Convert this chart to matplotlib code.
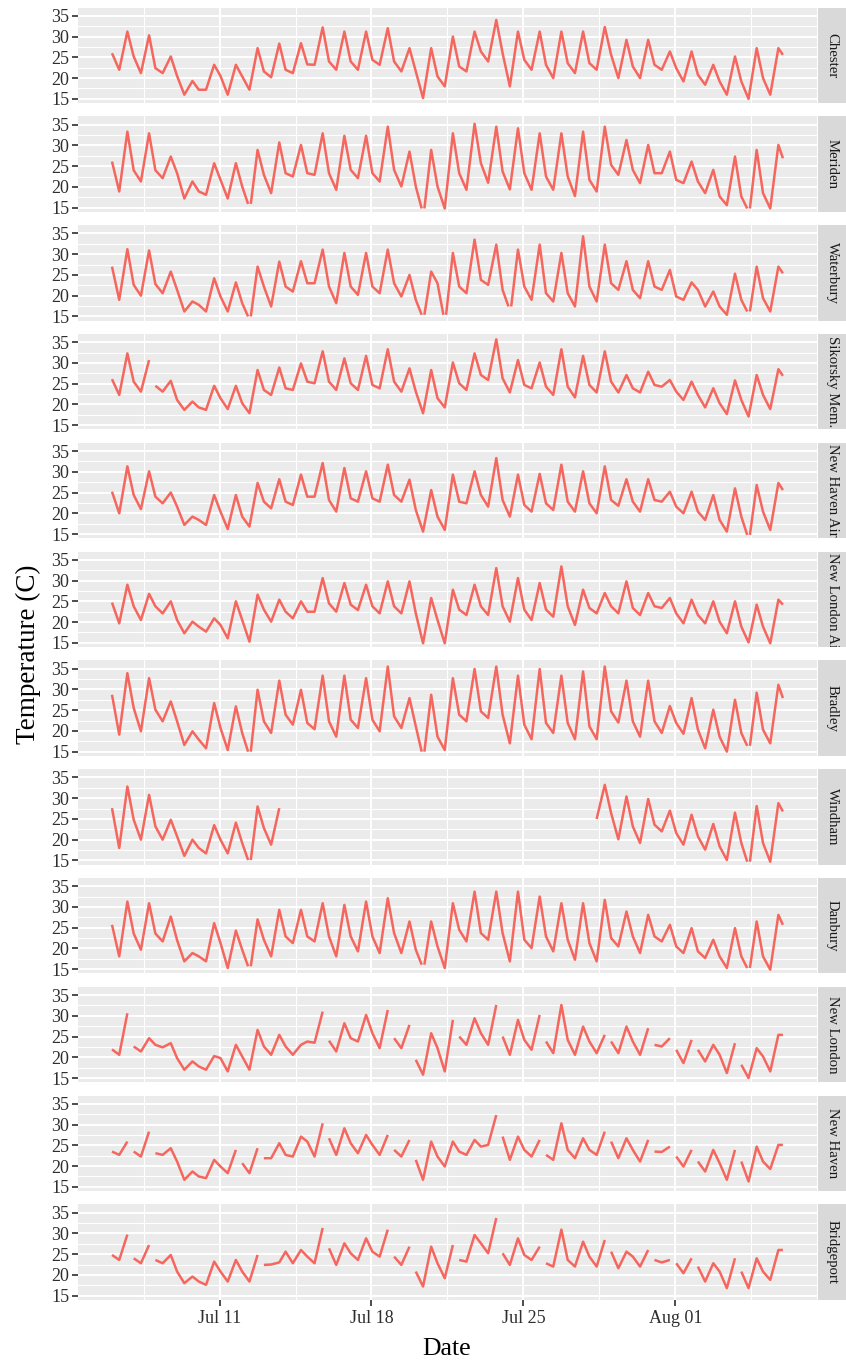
import numpy as np
import pandas as pd
import matplotlib
matplotlib.use("Agg")
import matplotlib.pyplot as plt
import matplotlib.dates as mdates
from matplotlib.ticker import MultipleLocator, FixedLocator, NullFormatter

plt.rcParams['font.family'] = ['Liberation Serif', 'DejaVu Serif']

nan = float('nan')

# hourly readings summarised per day: night (~01h), morning low (~09h), afternoon high (~18h)
start = pd.Timestamp('2016-07-06')
n_days = 31
night_hour, low_hour, high_hour, last_hour = 1, 9, 18, 743

chester_night = [26.0, 25.2, 22.4, 20.5, 17.2, 20.5, 20.4, 21.6, 22.0, 23.3, 24.0, 24.0, 24.4, 24.0, 21.6, 20.4,
                 22.8, 26.4, 26.0, 24.4, 23.2, 23.6, 23.6, 25.6, 22.8, 23.2, 22.4, 20.8, 19.2, 19.2, 20.0]
chester_lo = [22.0, 21.2, 21.2, 16.0, 17.2, 16.0, 17.2, 20.2, 21.2, 23.2, 22.0, 22.0, 23.2, 21.6, 15.2, 18.0,
              21.6, 24.0, 18.0, 22.0, 20.0, 21.2, 22.0, 20.0, 20.0, 22.0, 19.2, 18.4, 16.0, 15.0, 16.0]
chester_hi = [31.2, 30.3, 25.2, 19.3, 23.2, 23.2, 27.2, 28.3, 28.4, 32.2, 31.2, 31.2, 32.0, 27.2, 27.2, 30.0,
              31.2, 34.0, 31.2, 31.2, 31.2, 31.2, 32.3, 29.2, 29.2, 26.4, 26.4, 23.2, 25.2, 27.2, 27.2]
chester_last = 25.6

meriden_night = [26.1, 24.0, 24.0, 23.3, 18.9, 21.7, 20.1, 22.9, 23.3, 23.3, 23.3, 24.1, 23.3, 24.1, 20.1, 20.1,
                 23.3, 25.7, 23.7, 23.3, 22.5, 22.5, 21.7, 25.3, 24.1, 23.3, 21.7, 21.3, 17.7, 17.7, 18.5]
meriden_lo = [18.9, 21.3, 22.1, 17.2, 18.1, 17.2, 15.9, 18.5, 22.5, 22.9, 19.3, 22.1, 21.3, 20.1, 14.8, 14.8,
              19.3, 21.0, 19.4, 19.3, 19.3, 17.8, 18.9, 22.9, 20.9, 23.3, 20.9, 18.5, 15.6, 14.8, 14.8]
meriden_hi = [33.3, 32.9, 27.3, 21.3, 25.7, 25.7, 28.9, 30.7, 30.1, 32.9, 32.3, 32.3, 34.5, 28.5, 28.9, 32.9,
              35.2, 34.5, 34.1, 32.9, 32.9, 33.3, 34.5, 31.3, 30.1, 28.5, 26.1, 24.1, 27.3, 28.9, 30.1]
meriden_last = 26.9

waterbury_night = [27.0, 22.6, 22.8, 21.4, 17.8, 19.8, 18.2, 22.2, 22.2, 23.0, 22.2, 22.2, 22.2, 23.0, 19.0, 23.0,
                   22.2, 23.8, 21.4, 22.2, 20.6, 20.6, 22.2, 23.0, 21.4, 22.2, 19.8, 21.4, 17.4, 19.0, 19.4]
waterbury_lo = [19.0, 20.0, 20.6, 16.2, 16.2, 16.2, 15.0, 17.4, 21.0, 23.0, 18.2, 20.2, 20.6, 19.8, 15.4, 15.4,
                20.6, 22.6, 17.4, 19.0, 18.6, 17.4, 18.6, 21.4, 19.4, 21.4, 19.0, 17.4, 15.4, 16.2, 16.2]
waterbury_hi = [31.2, 30.9, 25.8, 18.6, 24.2, 23.2, 27.0, 28.2, 28.3, 31.1, 30.3, 30.3, 31.1, 25.0, 25.8, 30.3,
                33.5, 32.3, 31.1, 32.3, 30.3, 34.3, 32.3, 28.3, 28.3, 26.2, 23.2, 21.0, 25.3, 27.0, 27.0]
waterbury_last = 25.4

sikorsky_night = [26.1, 25.5, 24.5, 21.1, 19.3, 21.5, 20.3, 23.5, 23.9, 25.5, 25.5, 25.1, 24.7, 25.5, 23.1, 21.5,
                  25.1, 27.1, 26.3, 24.7, 24.3, 24.3, 24.7, 25.5, 23.9, 24.7, 23.1, 22.3, 20.3, 21.1, 22.3]
sikorsky_lo = [22.3, 23.1, 23.1, 18.7, 18.7, 18.9, 17.9, 22.3, 23.5, 25.1, 23.5, 23.5, 23.9, 23.1, 17.9, 19.3,
               23.5, 25.9, 22.9, 23.9, 22.3, 21.7, 22.9, 22.9, 22.9, 24.3, 21.1, 19.3, 17.7, 17.1, 18.9]
sikorsky_hi = [32.3, 30.7, 25.7, 20.7, 24.5, 24.5, 28.3, 28.9, 29.9, 32.8, 31.1, 31.7, 33.3, 28.7, 28.3, 30.1,
               32.3, 35.7, 30.7, 30.1, 33.3, 31.7, 32.8, 27.1, 27.9, 25.9, 25.5, 23.9, 25.8, 27.1, 28.5]
sikorsky_last = 26.9

nhair_night = [25.2, 24.4, 24.0, 21.6, 18.4, 20.4, 19.2, 22.8, 22.8, 24.0, 23.2, 23.6, 23.6, 24.4, 20.8, 19.2,
               22.8, 24.4, 23.2, 22.0, 22.4, 22.8, 22.4, 23.2, 22.8, 23.2, 21.6, 20.4, 18.4, 19.2, 20.4]
nhair_lo = [20.0, 21.0, 22.4, 17.2, 17.2, 16.2, 16.8, 21.2, 22.0, 24.0, 20.4, 22.8, 22.8, 22.8, 15.6, 16.0,
            22.4, 21.6, 19.2, 20.4, 20.8, 20.4, 20.0, 21.8, 20.4, 22.8, 20.0, 18.4, 15.6, 14.8, 16.0]
nhair_hi = [31.3, 30.1, 25.0, 19.2, 24.4, 24.4, 27.3, 28.2, 29.3, 32.1, 30.9, 30.1, 31.7, 28.1, 25.6, 29.3,
            30.1, 33.3, 29.3, 29.5, 31.7, 30.1, 31.3, 28.2, 28.2, 25.2, 25.2, 24.4, 26.0, 26.8, 27.3]
nhair_last = 25.6

nlair_night = [24.7, 23.8, 23.8, 20.5, 18.9, 19.3, 20.5, 23.0, 22.5, 22.5, 24.5, 24.2, 23.8, 23.8, 22.1, 20.5,
               23.0, 23.8, 23.8, 23.0, 23.0, 23.8, 23.4, 23.8, 23.4, 23.8, 22.1, 21.7, 20.1, 18.9, 18.9]
nlair_lo = [19.7, 20.5, 22.1, 17.3, 17.7, 16.1, 15.3, 20.1, 20.9, 22.5, 22.5, 22.9, 22.1, 22.1, 14.9, 14.9,
            21.7, 21.7, 20.1, 20.5, 21.3, 19.3, 22.1, 22.1, 21.7, 23.4, 19.7, 19.7, 17.3, 15.1, 14.9]
nlair_hi = [29.0, 26.8, 25.0, 20.1, 20.9, 25.0, 26.6, 25.4, 25.0, 30.6, 29.4, 29.0, 29.8, 29.8, 25.8, 27.8,
            29.0, 33.0, 30.6, 29.4, 33.4, 27.8, 27.0, 29.8, 27.0, 25.8, 25.4, 25.0, 25.0, 24.2, 25.4]
nlair_last = 24.2

bradley_night = [28.7, 25.5, 25.1, 22.3, 17.9, 20.7, 19.5, 22.3, 23.9, 21.9, 22.3, 22.7, 22.7, 23.5, 21.1, 18.6,
                 23.9, 24.7, 23.9, 21.5, 21.9, 21.9, 21.1, 24.7, 22.3, 22.3, 21.9, 20.3, 18.6, 19.5, 20.3]
bradley_lo = [19.1, 19.9, 22.3, 16.6, 15.8, 15.4, 15.0, 19.5, 21.5, 20.4, 18.6, 20.7, 19.9, 20.7, 15.0, 15.4,
              22.3, 23.1, 17.0, 18.0, 19.5, 18.0, 18.0, 22.0, 18.6, 19.5, 19.3, 15.8, 15.0, 16.4, 17.0]
bradley_hi = [33.9, 32.7, 27.1, 19.9, 26.7, 25.9, 29.9, 32.1, 29.9, 33.3, 33.3, 32.7, 35.5, 27.9, 28.7, 32.7,
              34.9, 35.5, 33.3, 34.9, 33.3, 34.3, 35.5, 32.1, 32.1, 26.0, 27.9, 25.1, 27.5, 29.2, 31.1]
bradley_last = 27.9

windham_night = [27.6, 24.8, 23.2, 20.8, 18.0, 20.0, 19.2, 22.8] + [nan] * 15 + \
                [26.4, 23.2, 23.6, 21.6, 20.8, 18.4, 19.2, 19.2]
windham_lo = [18.0, 20.0, 20.0, 16.1, 16.7, 16.7, 15.1, 18.8] + [nan] * 14 + \
             [25.0, 20.1, 19.2, 22.0, 18.8, 17.6, 15.1, 14.7, 14.7]
windham_hi = [32.8, 30.8, 24.8, 20.0, 23.5, 24.1, 28.0, 27.6] + [nan] * 14 + \
             [33.2, 30.4, 29.8, 27.0, 26.0, 23.8, 26.5, 28.1, 28.8]
windham_last = 26.8

danbury_night = [25.7, 23.6, 23.6, 22.0, 18.1, 21.3, 19.7, 22.1, 22.9, 22.9, 22.9, 22.9, 22.9, 23.7, 19.7, 20.5,
                 24.5, 23.7, 23.7, 22.1, 22.9, 22.1, 21.3, 22.5, 22.9, 22.9, 20.5, 19.3, 18.1, 18.1, 18.1]
danbury_lo = [18.1, 19.7, 21.7, 16.9, 16.9, 15.3, 15.7, 18.1, 21.3, 21.7, 18.1, 19.3, 18.9, 18.9, 16.1, 15.3,
              21.7, 22.1, 16.9, 20.1, 19.3, 17.3, 16.9, 20.5, 18.9, 21.7, 18.9, 17.7, 15.3, 15.3, 14.9]
danbury_hi = [31.3, 30.9, 27.7, 18.9, 26.1, 24.3, 27.0, 29.3, 29.3, 30.9, 30.5, 31.3, 32.1, 26.5, 26.5, 30.9,
              33.7, 33.7, 33.7, 32.5, 30.9, 30.9, 31.7, 28.9, 28.1, 25.7, 24.9, 22.1, 24.9, 26.5, 28.1]
danbury_last = 25.7

newlondon_night = [21.9, 22.6, 23.0, 19.8, 17.8, 19.8, 20.2, 22.6, 22.6, 23.8, 24.0, 24.6, 25.8, 24.6, 19.4, 22.2,
                   25.0, 25.8, 25.0, 24.2, 23.8, 24.2, 23.8, 23.8, 23.8, 23.0, 21.8, 21.8, 20.6, 18.2, 20.2]
newlondon_lo = [20.6, 21.4, 22.4, 17.0, 17.0, 16.6, 17.0, 20.6, 20.6, 23.5, 21.4, 23.8, 22.2, 22.2, 15.8, 16.6,
                23.0, 23.0, 20.6, 21.8, 21.0, 20.6, 21.0, 21.0, 20.6, 22.6, 18.6, 19.0, 16.2, 15.0, 16.6]
newlondon_hi = [30.6, 24.6, 23.4, 19.0, 20.3, 23.0, 26.6, 25.4, 23.0, 31.0, 28.2, 30.2, 31.4, 27.8, 25.8, 29.0,
                29.4, 32.6, 29.0, 30.2, 32.6, 27.4, 25.4, 27.4, 27.0, 24.6, 24.2, 23.0, 23.4, 22.2, 25.4]
newlondon_last = 25.4

newhaven_night = [23.5, 23.5, 23.1, 21.1, 17.5, 19.9, 20.7, 21.9, 22.7, 25.9, 26.7, 25.5, 25.1, 23.9, 21.5, 22.3,
                  23.5, 24.7, 27.1, 23.9, 22.7, 23.9, 23.9, 25.9, 23.9, 23.5, 22.3, 21.1, 20.7, 21.1, 21.1]
newhaven_lo = [22.7, 22.3, 22.7, 16.7, 17.1, 18.3, 18.3, 21.9, 22.3, 22.3, 22.7, 23.1, 22.7, 22.3, 16.7, 19.9,
               22.7, 25.1, 21.5, 22.3, 21.5, 21.9, 22.7, 21.9, 21.1, 23.4, 19.9, 18.7, 16.7, 16.3, 19.3]
newhaven_hi = [25.9, 28.3, 24.3, 18.7, 21.5, 23.9, 24.3, 25.5, 27.1, 30.3, 29.1, 27.5, 27.5, 26.3, 25.9, 25.9,
               26.3, 32.3, 27.1, 26.3, 30.3, 26.7, 28.3, 26.7, 26.3, 24.7, 23.9, 23.9, 23.9, 24.7, 25.1]
newhaven_last = 25.1

bridgeport_night = [24.8, 24.0, 23.6, 20.8, 18.4, 20.8, 20.8, 22.4, 25.6, 24.4, 26.4, 25.2, 25.6, 24.4, 20.8, 22.8,
                    23.6, 27.6, 25.2, 24.8, 22.8, 23.6, 24.4, 25.6, 24.4, 23.6, 22.8, 22.0, 20.8, 20.8, 20.8]
bridgeport_lo = [23.6, 22.8, 22.8, 18.0, 17.6, 18.4, 18.4, 22.5, 22.8, 22.8, 22.4, 23.6, 24.4, 22.4, 17.2, 19.2,
                 23.2, 25.2, 22.4, 23.6, 22.0, 22.0, 22.0, 21.6, 22.0, 23.0, 20.4, 18.4, 16.8, 16.8, 18.8]
bridgeport_hi = [29.7, 27.2, 24.8, 19.6, 23.2, 23.6, 24.8, 23.0, 26.0, 31.3, 27.6, 28.8, 30.9, 26.8, 26.8, 27.2,
                 29.6, 33.7, 28.8, 26.8, 30.9, 28.0, 28.4, 25.6, 26.0, 23.6, 24.0, 22.8, 24.0, 24.0, 26.0]
bridgeport_last = 26.0

# missing readings: a short hole around the morning low, or a hole after the afternoon high
gap_at_low = {"Meriden": [6, 14, 29], "Waterbury": [6, 14, 15, 18, 29], "Bradley": [6, 14, 29],
              "Windham": [6, 29], "Danbury": [6, 14, 29], "New Haven Airport": [29]}
gap_after_high = {"Sikorsky Mem.": [1],
                  "New London": [0, 9, 12, 13, 15, 17, 19, 22, 24, 25, 26, 28],
                  "New Haven": [0, 1, 5, 6, 9, 12, 13, 17, 19, 22, 24, 25, 26, 28],
                  "Bridgeport": [0, 1, 6, 9, 12, 13, 15, 17, 19, 22, 24, 25, 26, 28]}

stations = [
    ("Chester", chester_night, chester_lo, chester_hi, chester_last),
    ("Meriden", meriden_night, meriden_lo, meriden_hi, meriden_last),
    ("Waterbury", waterbury_night, waterbury_lo, waterbury_hi, waterbury_last),
    ("Sikorsky Mem.", sikorsky_night, sikorsky_lo, sikorsky_hi, sikorsky_last),
    ("New Haven Airport", nhair_night, nhair_lo, nhair_hi, nhair_last),
    ("New London Airport", nlair_night, nlair_lo, nlair_hi, nlair_last),
    ("Bradley", bradley_night, bradley_lo, bradley_hi, bradley_last),
    ("Windham", windham_night, windham_lo, windham_hi, windham_last),
    ("Danbury", danbury_night, danbury_lo, danbury_hi, danbury_last),
    ("New London", newlondon_night, newlondon_lo, newlondon_hi, newlondon_last),
    ("New Haven", newhaven_night, newhaven_lo, newhaven_hi, newhaven_last),
    ("Bridgeport", bridgeport_night, bridgeport_lo, bridgeport_hi, bridgeport_last),
]


def build_series(name, night, lo, hi, last):
    hrs, vals = [], []
    for d in range(n_days):
        hrs.append(d * 24 + night_hour)
        vals.append(night[d])
        t_lo = d * 24 + low_hour
        if d in gap_at_low.get(name, []):
            hrs += [t_lo - 1.5, t_lo, t_lo + 1.5]
            vals += [lo[d], nan, lo[d]]
        else:
            hrs.append(t_lo)
            vals.append(lo[d])
        hrs.append(d * 24 + high_hour)
        vals.append(hi[d])
        if d in gap_after_high.get(name, []):
            hrs.append(d * 24 + high_hour + 1)
            vals.append(nan)
    hrs.append(last_hour)
    vals.append(last)
    times = start + pd.to_timedelta(hrs, unit='h')
    return times.to_numpy(), np.array(vals)


W, H = 846, 1365
fig = plt.figure(figsize=(W / 100, H / 100), dpi=100)

left, right = 77.5, 816.5
top0, ph, pitch = 7.5, 95.5, 108.8

t_first = start
t_last = start + pd.Timedelta(hours=last_hour)
pad = (t_last - t_first) * 0.05
xlo, xhi = mdates.date2num(t_first - pad), mdates.date2num(t_last + pad)

major_days = pd.date_range('2016-07-11', periods=4, freq='7D')
minor_days = pd.date_range('2016-07-07 12:00', periods=5, freq='7D')

line_col = '#F5675E'
tick_col = '#2E2E2E'

for i, (name, night, lo, hi, last) in enumerate(stations):
    top = top0 + i * pitch
    ax = fig.add_axes([left / W, 1 - (top + ph) / H, (right - left) / W, ph / H])
    ax.set_facecolor('#EBEBEB')
    t, v = build_series(name, night, lo, hi, last)
    ax.plot(t, v, color=line_col, lw=1.8, solid_joinstyle='round', solid_capstyle='butt')

    ax.set_xlim(xlo, xhi)
    ax.set_ylim(14.0, 37.0)
    ax.yaxis.set_major_locator(MultipleLocator(5))
    ax.yaxis.set_minor_locator(MultipleLocator(2.5))
    ax.xaxis.set_major_locator(FixedLocator(mdates.date2num(major_days)))
    ax.xaxis.set_minor_locator(FixedLocator(mdates.date2num(minor_days)))
    ax.xaxis.set_major_formatter(mdates.DateFormatter('%b %d'))
    ax.xaxis.set_minor_formatter(NullFormatter())

    ax.set_axisbelow(True)
    ax.grid(which='major', color='white', lw=1.4)
    ax.grid(which='minor', color='white', lw=0.8)
    for s in ax.spines.values():
        s.set_visible(False)

    ax.tick_params(axis='y', which='major', length=4, width=1.2, color=tick_col,
                   labelsize=13, labelcolor=tick_col, pad=2)
    ax.tick_params(which='minor', length=0)
    if i == len(stations) - 1:
        ax.tick_params(axis='x', which='major', length=4, width=1.2, color=tick_col,
                       labelsize=13, labelcolor=tick_col, pad=3)
    else:
        ax.tick_params(axis='x', which='major', length=0, labelbottom=False)

    # facet strip on the right
    sx = fig.add_axes([818 / W, 1 - (top + ph) / H, 28 / W, ph / H])
    sx.set_facecolor('#D9D9D9')
    sx.set_xticks([])
    sx.set_yticks([])
    for s in sx.spines.values():
        s.set_visible(False)
    if len(name) > 14:
        sx.text(0.5, 0.985, name, rotation=-90, ha='center', va='top', fontsize=10.6,
                color='#1A1A1A', transform=sx.transAxes, clip_on=True)
    else:
        sx.text(0.5, 0.5, name, rotation=-90, ha='center', va='center', fontsize=10.6,
                color='#1A1A1A', transform=sx.transAxes, clip_on=True)

fig.text(28 / W, 1 - 654.7 / H, 'Temperature (C)', rotation=90, ha='center', va='center',
         fontsize=19.5, color='black')
fig.text(447 / W, 1 - 1349 / H, 'Date', ha='center', va='center', fontsize=18.5, color='black')

fig.savefig('out.png', dpi=100, facecolor='white')
